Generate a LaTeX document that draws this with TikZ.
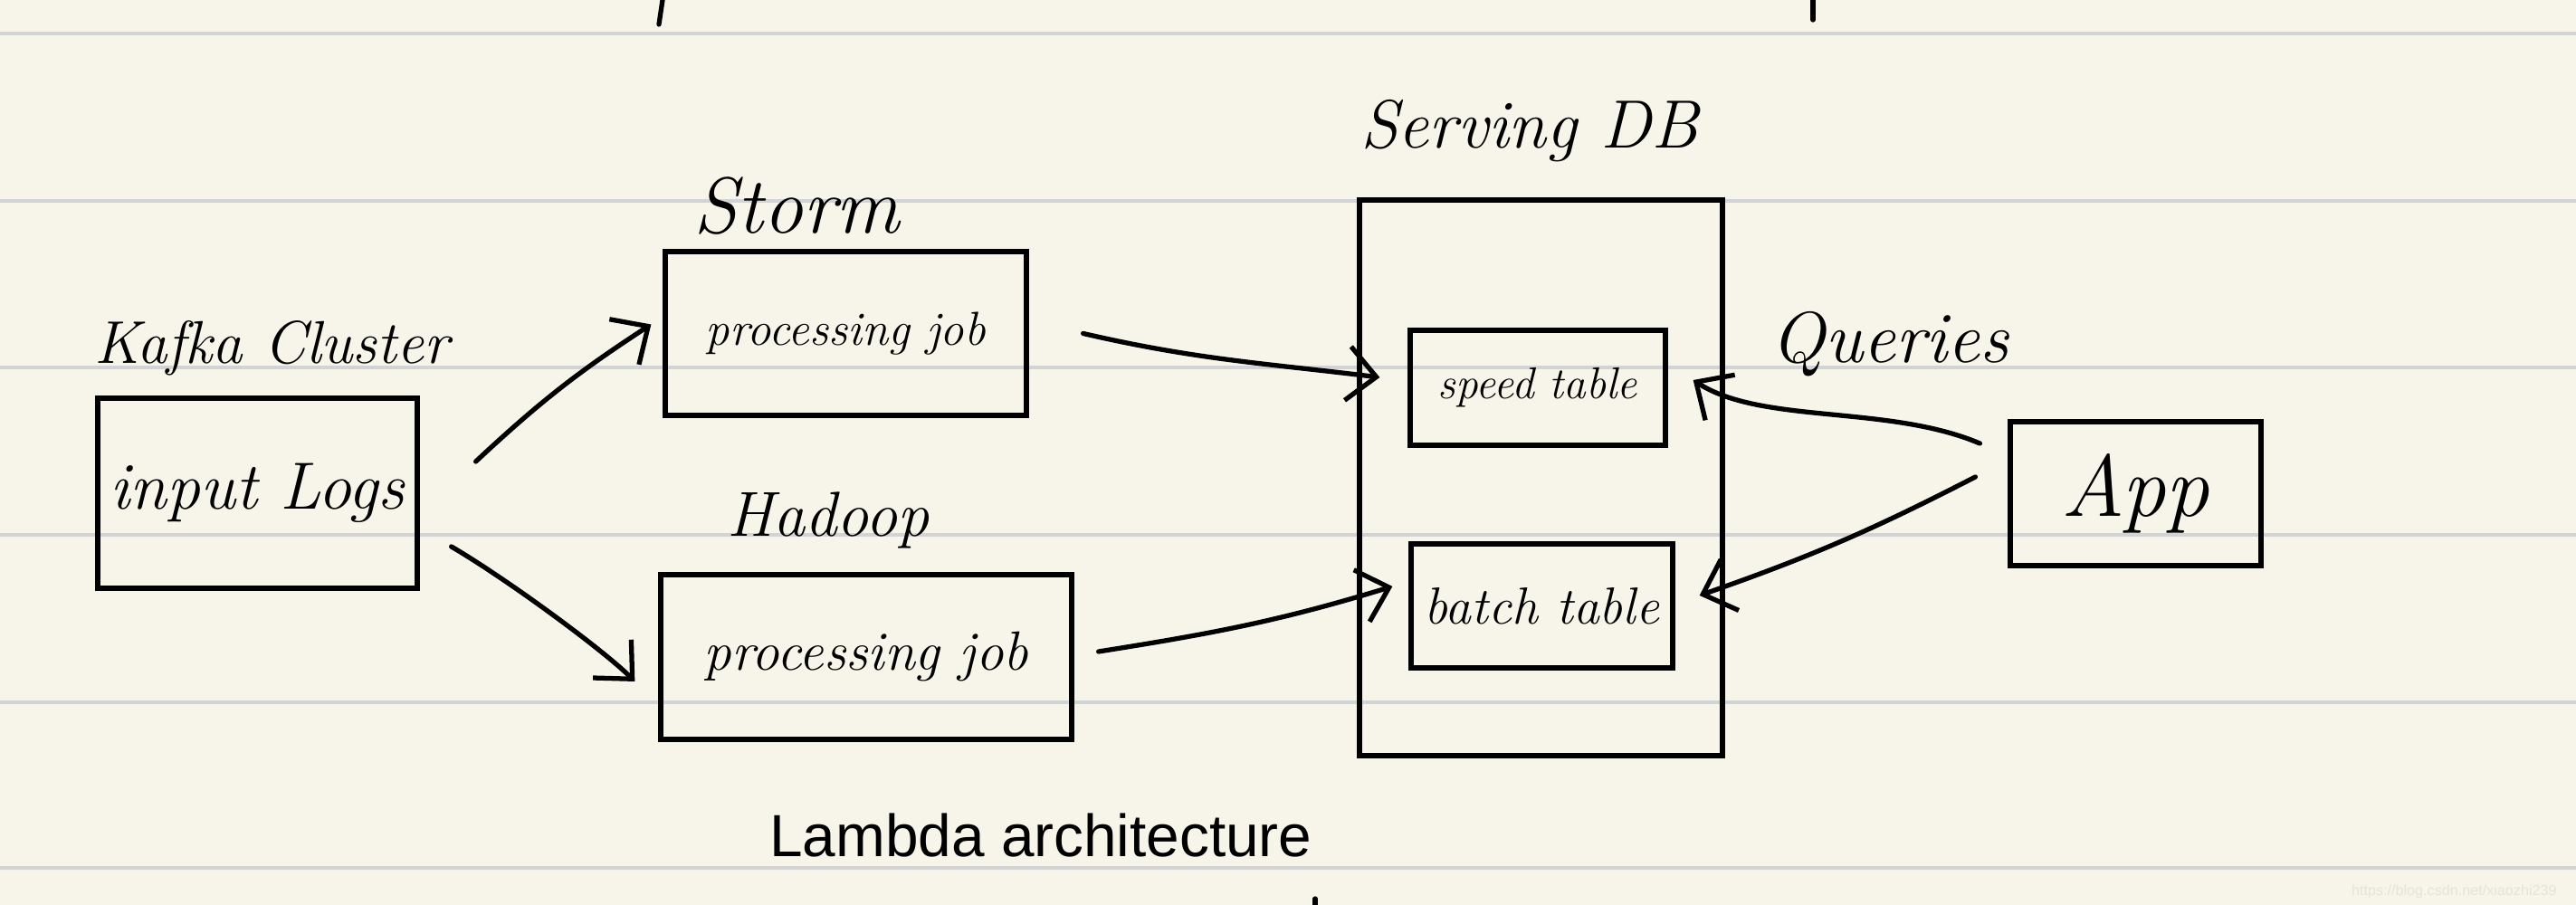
\documentclass[tikz,border=0pt]{standalone}
\usepackage{fontspec}
\newfontfamily\capfont{Liberation Sans}
\usetikzlibrary{positioning}
\usetikzlibrary{arrows.meta}
\definecolor{paper}{RGB}{247,245,234}
\definecolor{ruleline}{RGB}{210,211,214}
\definecolor{wmark}{RGB}{230,228,218}
\tikzset{
    jobbox/.style={draw, line width=1.5pt, inner sep=0pt, font=\itshape},
    flow/.style={line width=1.5pt, line cap=round, -{Straight Barb[length=9pt,width=17pt]}},
    pen/.style={line width=1.5pt, line cap=round},
}

\begin{document}
\begin{tikzpicture}
    % Paper with ruled lines
    \fill[paper] (0,0) rectangle (28.46,10);
    \useasboundingbox (0,0) rectangle (28.46,10);
    \foreach \y in {9.63, 7.78, 5.94, 4.09, 2.24, 0.41} {
        \draw[ruleline, line width=1.3pt] (0,\y) -- (28.46,\y);
    }
    % Stray pen strokes
    \draw[pen] (7.32,10) -- (7.28,9.73);
    \draw[pen] (20.03,10) -- (20.03,9.78);
    \draw[pen] (14.53,0.07) -- (14.53,0);

    % Kafka
    \node[font=\itshape\fontsize{19pt}{19pt}\selectfont] (kafkalbl) at (3.00,6.15) {Kafka Cluster};
    \node[jobbox, minimum width=3.53cm, minimum height=2.10cm] (kafka) at (2.845,4.55)
        {\fontsize{21pt}{21pt}\selectfont input Logs};

    % Speed and batch layers
    \node[font=\itshape\fontsize{25pt}{25pt}\selectfont] (stormlbl) at (8.80,7.72) {Storm};
    \node[jobbox, minimum width=3.99cm, minimum height=1.81cm] (storm) at (9.345,6.315)
        {\fontsize{15pt}{15pt}\selectfont processing job};
    \node[font=\itshape\fontsize{20pt}{20pt}\selectfont] (hadooplbl) at (9.15,4.25) {Hadoop};
    \node[jobbox, minimum width=4.54cm, minimum height=1.82cm] (hadoop) at (9.57,2.74)
        {\fontsize{17.4pt}{17.4pt}\selectfont processing job};

    % Serving DB
    \node[font=\itshape\fontsize{21.5pt}{21.5pt}\selectfont] (servinglbl) at (16.90,8.55) {Serving DB};
    \node[jobbox, minimum width=4.01cm, minimum height=6.14cm] (serving) at (17.025,4.72) {};
    \node[jobbox, minimum width=2.82cm, minimum height=1.27cm] (speed) at (16.99,5.715)
        {\fontsize{14pt}{14pt}\selectfont speed table};
    \node[jobbox, minimum width=2.89cm, minimum height=1.37cm] (batch) at (17.035,3.305)
        {\fontsize{16.4pt}{16.4pt}\selectfont batch table};

    % App
    \node[font=\itshape\fontsize{22.7pt}{22.7pt}\selectfont] (querieslbl) at (20.88,6.20) {Queries};
    \node[jobbox, minimum width=2.77cm, minimum height=1.59cm] (app) at (23.595,4.545)
        {\fontsize{27.5pt}{27.5pt}\selectfont App};

    % Arrows
    \draw[flow] ([shift={(0.62,0.35)}]kafka.east) to[bend left=5] ([shift={(-0.13,0.10)}]storm.west);
    \draw[flow] ([shift={(0.35,-0.59)}]kafka.east) .. controls +(0.6,-0.35) and +(-0.35,0.35) .. ([shift={(-0.26,-0.27)}]hadoop.west);
    \draw[flow] ([shift={(0.60,0)}]storm.east) to[out=-13, in=173] ([shift={(-0.31,0.115)}]speed.west);
    \draw[flow] ([shift={(0.27,0.06)}]hadoop.east) to[out=9, in=197] ([shift={(-0.18,0.215)}]batch.west);
    \draw[flow] ([shift={(-0.31,0.555)}]app.west) .. controls +(157:1.1) and +(-33:0.9) .. ([shift={(0.28,0.085)}]speed.east);
    \draw[flow] ([shift={(-0.36,0.185)}]app.west) to[bend left=4] ([shift={(0.27,0.115)}]batch.east);

    % Caption
    \node[anchor=base west, font=\capfont\fontsize{18.7pt}{18.7pt}\selectfont] (caption) at (8.38,0.53) {Lambda architecture};
    \node[anchor=base east, text=wmark, font=\capfont\fontsize{4.6pt}{5pt}\selectfont] (wm) at (28.37,0.10) {https://blog.csdn.net/xiaozhi239};
\end{tikzpicture}
\end{document}
